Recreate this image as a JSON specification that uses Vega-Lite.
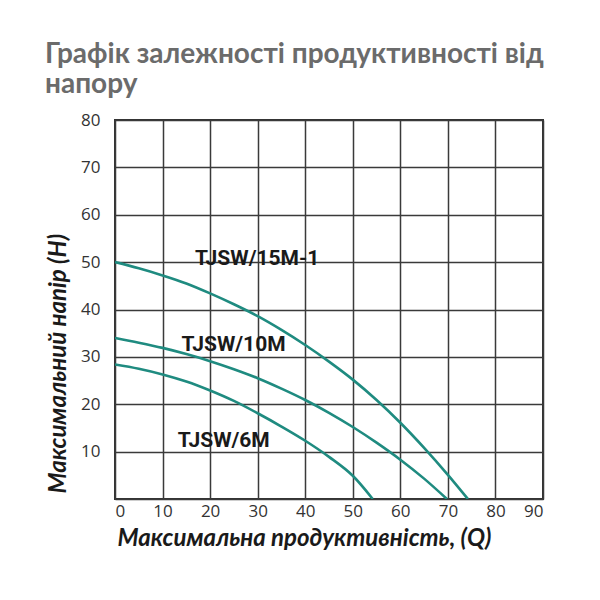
{
  "$schema": "https://vega.github.io/schema/vega-lite/v6.json",
  "autosize": "none",
  "width": 428,
  "height": 379,
  "padding": {"left": 115, "top": 120, "right": 57, "bottom": 101},
  "background": "white",
  "title": {
    "text": ["Графік залежності продуктивності від", "напору"],
    "anchor": "start",
    "frame": "group",
    "dx": -70,
    "offset": 12,
    "font": "Lato",
    "fontSize": 28,
    "fontWeight": "bold",
    "color": "#6b6b6b",
    "lineHeight": 30
  },
  "config": {
    "view": {"stroke": "#333333", "strokeWidth": 2},
    "axis": {
      "grid": true,
      "gridColor": "#3a3a3a",
      "gridWidth": 1.5,
      "gridOpacity": 1,
      "ticks": false,
      "domain": false,
      "labelFont": "Open Sans",
      "labelFontSize": 17,
      "labelColor": "#333333",
      "titleFont": "Lato",
      "titleFontStyle": "italic",
      "titleFontWeight": "bold",
      "titleFontSize": 24,
      "titleColor": "#1a1a1a"
    }
  },
  "datasets": {
    "curves": [
      {"model": "TJSW/15M-1", "Q": 0, "H": 50},
      {"model": "TJSW/15M-1", "Q": 5, "H": 48.7},
      {"model": "TJSW/15M-1", "Q": 10, "H": 47.2},
      {"model": "TJSW/15M-1", "Q": 15, "H": 45.5},
      {"model": "TJSW/15M-1", "Q": 20, "H": 43.4},
      {"model": "TJSW/15M-1", "Q": 25, "H": 41.1},
      {"model": "TJSW/15M-1", "Q": 30, "H": 38.6},
      {"model": "TJSW/15M-1", "Q": 35, "H": 35.7},
      {"model": "TJSW/15M-1", "Q": 40, "H": 32.5},
      {"model": "TJSW/15M-1", "Q": 45, "H": 29},
      {"model": "TJSW/15M-1", "Q": 50, "H": 25.2},
      {"model": "TJSW/15M-1", "Q": 55, "H": 20.9},
      {"model": "TJSW/15M-1", "Q": 60, "H": 16.1},
      {"model": "TJSW/15M-1", "Q": 65, "H": 10.8},
      {"model": "TJSW/15M-1", "Q": 70, "H": 5.1},
      {"model": "TJSW/15M-1", "Q": 74.2, "H": 0},
      {"model": "TJSW/10M", "Q": 0, "H": 34},
      {"model": "TJSW/10M", "Q": 5, "H": 33},
      {"model": "TJSW/10M", "Q": 10, "H": 31.9},
      {"model": "TJSW/10M", "Q": 15, "H": 30.6},
      {"model": "TJSW/10M", "Q": 20, "H": 29.1},
      {"model": "TJSW/10M", "Q": 25, "H": 27.4},
      {"model": "TJSW/10M", "Q": 30, "H": 25.5},
      {"model": "TJSW/10M", "Q": 35, "H": 23.3},
      {"model": "TJSW/10M", "Q": 40, "H": 20.9},
      {"model": "TJSW/10M", "Q": 45, "H": 18.2},
      {"model": "TJSW/10M", "Q": 50, "H": 15.2},
      {"model": "TJSW/10M", "Q": 55, "H": 11.9},
      {"model": "TJSW/10M", "Q": 60, "H": 8.3},
      {"model": "TJSW/10M", "Q": 65, "H": 4.3},
      {"model": "TJSW/10M", "Q": 69.8, "H": 0},
      {"model": "TJSW/6M", "Q": 0, "H": 28.4},
      {"model": "TJSW/6M", "Q": 5, "H": 27.5},
      {"model": "TJSW/6M", "Q": 10, "H": 26.3},
      {"model": "TJSW/6M", "Q": 15, "H": 24.8},
      {"model": "TJSW/6M", "Q": 20, "H": 22.9},
      {"model": "TJSW/6M", "Q": 25, "H": 20.7},
      {"model": "TJSW/6M", "Q": 30, "H": 18.1},
      {"model": "TJSW/6M", "Q": 35, "H": 15.3},
      {"model": "TJSW/6M", "Q": 40, "H": 12.3},
      {"model": "TJSW/6M", "Q": 45, "H": 8.9},
      {"model": "TJSW/6M", "Q": 50, "H": 4.9},
      {"model": "TJSW/6M", "Q": 54.2, "H": 0}
    ],
    "labels": [
      {"model": "TJSW/15M-1", "Q": 16.8, "H": 49.4},
      {"model": "TJSW/10M", "Q": 14, "H": 31.3},
      {"model": "TJSW/6M", "Q": 13.2, "H": 11}
    ]
  },
  "layer": [
    {
      "data": {"name": "curves"},
      "mark": {"type": "line", "interpolate": "monotone", "strokeWidth": 2.6, "color": "#1f8b80", "clip": true},
      "encoding": {
        "x": {
          "field": "Q",
          "type": "quantitative",
          "scale": {"domain": [0, 90], "nice": false, "zero": true},
          "axis": {
            "values": [0, 5, 10, 15, 20, 25, 30, 35, 40, 45, 50, 55, 60, 65, 70, 75, 80, 85, 90],
            "labelExpr": "datum.value % 10 === 0 ? datum.label : ''",
            "labelPadding": 4,
            "title": "Максимальна продуктивність, (Q)",
            "titleX": 189,
            "titleY": 46,
            "titleAlign": "center",
            "titleBaseline": "alphabetic"
          }
        },
        "y": {
          "field": "H",
          "type": "quantitative",
          "scale": {"domain": [0, 80], "nice": false},
          "axis": {
            "values": [0, 5, 10, 15, 20, 25, 30, 35, 40, 45, 50, 55, 60, 65, 70, 75, 80],
            "labelExpr": "datum.value % 10 === 0 && datum.value > 0 ? datum.label : ''",
            "labelPadding": 15,
            "title": "Максимальний напір (H)",
            "titleAngle": 270,
            "titleX": -50,
            "titleY": 373,
            "titleAlign": "left",
            "titleBaseline": "alphabetic"
          }
        },
        "detail": {"field": "model"}
      }
    },
    {
      "data": {"name": "labels"},
      "mark": {"type": "text", "align": "left", "baseline": "alphabetic", "font": "Roboto", "fontWeight": "bold", "fontSize": 21, "color": "#1a1a1a"},
      "encoding": {
        "x": {"field": "Q", "type": "quantitative"},
        "y": {"field": "H", "type": "quantitative"},
        "text": {"field": "model"}
      }
    }
  ]
}
